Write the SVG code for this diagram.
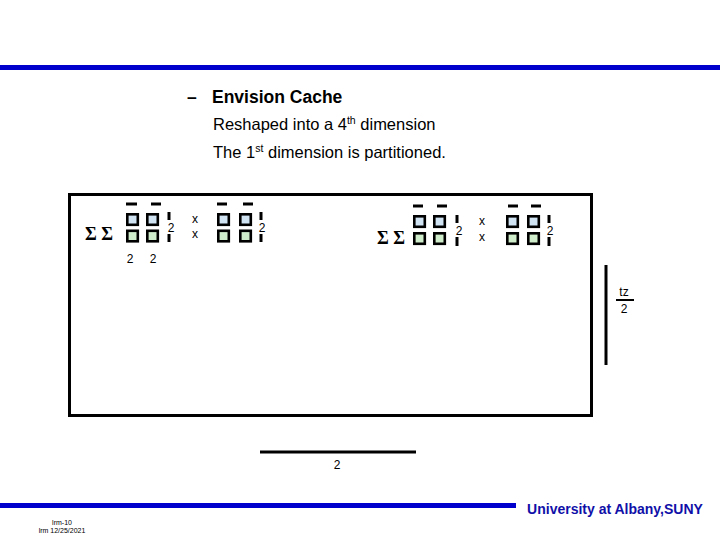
<svg xmlns="http://www.w3.org/2000/svg" width="720" height="540" viewBox="0 0 720 540">
<style>
.t{font-family:"Liberation Sans",Arial,sans-serif;fill:#000}
.sig{font-family:"Liberation Serif","Times New Roman",serif;font-weight:bold;font-size:18px;fill:#000}
.n{font-family:"Liberation Sans",Arial,sans-serif;font-size:12px;fill:#000;text-anchor:middle}
.bl{fill:#cfe3f3;stroke:#000;stroke-width:2.6}
.gr{fill:#cfeccb;stroke:#000;stroke-width:2.6}
.k{stroke:#000;stroke-width:3;fill:none}
</style>
<rect width="720" height="540" fill="#fff"/>
<g id="rules">
<rect x="0" y="65" width="720" height="5" fill="#0000cc"/>
<rect x="0" y="503" width="516" height="5" fill="#0000cc"/>
</g>
<g id="title">
<text class="t" x="187" y="103" font-size="17.5" font-weight="bold">–</text>
<text class="t" x="212" y="103" font-size="17.5" font-weight="bold">Envision Cache</text>
<text class="t" x="213" y="130" font-size="16.5">Reshaped into a 4<tspan font-size="10.5" dy="-6">th</tspan><tspan dy="6"> dimension</tspan></text>
<text class="t" x="213" y="158" font-size="16.5">The 1<tspan font-size="10.5" dy="-6">st</tspan><tspan dy="6"> dimension is partitioned.</tspan></text>
</g>
<g id="box">
<rect class="k" x="69.5" y="194.5" width="522" height="221"/>
</g>
<g id="left-formula">
<text class="sig" x="85" y="240">Σ Σ</text>
<line class="k" x1="126" y1="204" x2="137" y2="204"/>
<line class="k" x1="151" y1="204" x2="161" y2="204"/>
<rect class="bl" x="127.3" y="214.3" width="10.5" height="10.5"/>
<rect class="bl" x="147.3" y="214.3" width="10.5" height="10.5"/>
<rect class="gr" x="127.3" y="230.8" width="10.5" height="10.5"/>
<rect class="gr" x="147.3" y="230.8" width="10.5" height="10.5"/>
<line class="k" x1="169" y1="212" x2="169" y2="220"/>
<line class="k" x1="169" y1="234" x2="169" y2="242"/>
<text class="n" x="171" y="232">2</text>
<text class="n" x="195" y="223">x</text>
<text class="n" x="195" y="238">x</text>
<line class="k" x1="217" y1="204" x2="227" y2="204"/>
<line class="k" x1="243" y1="204" x2="253" y2="204"/>
<rect class="bl" x="218.3" y="214.3" width="10.5" height="10.5"/>
<rect class="bl" x="240.3" y="214.3" width="10.5" height="10.5"/>
<rect class="gr" x="218.3" y="230.8" width="10.5" height="10.5"/>
<rect class="gr" x="240.3" y="230.8" width="10.5" height="10.5"/>
<line class="k" x1="261" y1="212" x2="261" y2="220"/>
<line class="k" x1="261" y1="234" x2="261" y2="242"/>
<text class="n" x="262" y="232">2</text>
<text class="n" x="130" y="263">2</text>
<text class="n" x="153" y="263">2</text>
</g>
<g id="right-formula">
<text class="sig" x="377" y="244">Σ Σ</text>
<line class="k" x1="413" y1="206" x2="423" y2="206"/>
<line class="k" x1="437" y1="206" x2="447" y2="206"/>
<rect class="bl" x="414.3" y="216.3" width="10.5" height="10.5"/>
<rect class="bl" x="434.3" y="216.3" width="10.5" height="10.5"/>
<rect class="gr" x="414.3" y="233.3" width="10.5" height="10.5"/>
<rect class="gr" x="434.3" y="233.3" width="10.5" height="10.5"/>
<line class="k" x1="457" y1="215" x2="457" y2="223"/>
<line class="k" x1="457" y1="237" x2="457" y2="246"/>
<text class="n" x="459" y="235">2</text>
<text class="n" x="482" y="225">x</text>
<text class="n" x="482" y="241">x</text>
<line class="k" x1="508" y1="206" x2="518" y2="206"/>
<line class="k" x1="531" y1="206" x2="541" y2="206"/>
<rect class="bl" x="507.3" y="216.3" width="10.5" height="10.5"/>
<rect class="bl" x="528.3" y="216.3" width="10.5" height="10.5"/>
<rect class="gr" x="507.3" y="233.3" width="10.5" height="10.5"/>
<rect class="gr" x="528.3" y="233.3" width="10.5" height="10.5"/>
<line class="k" x1="549" y1="215" x2="549" y2="223"/>
<line class="k" x1="549" y1="237" x2="549" y2="246"/>
<text class="n" x="550" y="235">2</text>
</g>
<g id="tz">
<line class="k" x1="606" y1="265" x2="606" y2="365"/>
<text class="n" x="624" y="296" font-size="11">tz</text>
<line x1="616" y1="300" x2="634" y2="300" stroke="#000" stroke-width="2"/>
<text class="n" x="624" y="313">2</text>
</g>
<g id="bottom-bar">
<line class="k" x1="260" y1="452" x2="416" y2="452"/>
<text class="n" x="337" y="469">2</text>
</g>
<g id="footer">
<text class="t" x="615" y="514" font-size="14" font-weight="bold" text-anchor="middle" style="fill:#1010a8">University at Albany,SUNY</text>
<text class="t" x="62" y="525" font-size="7" text-anchor="middle">lrm-10</text>
<text class="t" x="62" y="533" font-size="7" text-anchor="middle">lrm 12/25/2021</text>
</g>
</svg>
